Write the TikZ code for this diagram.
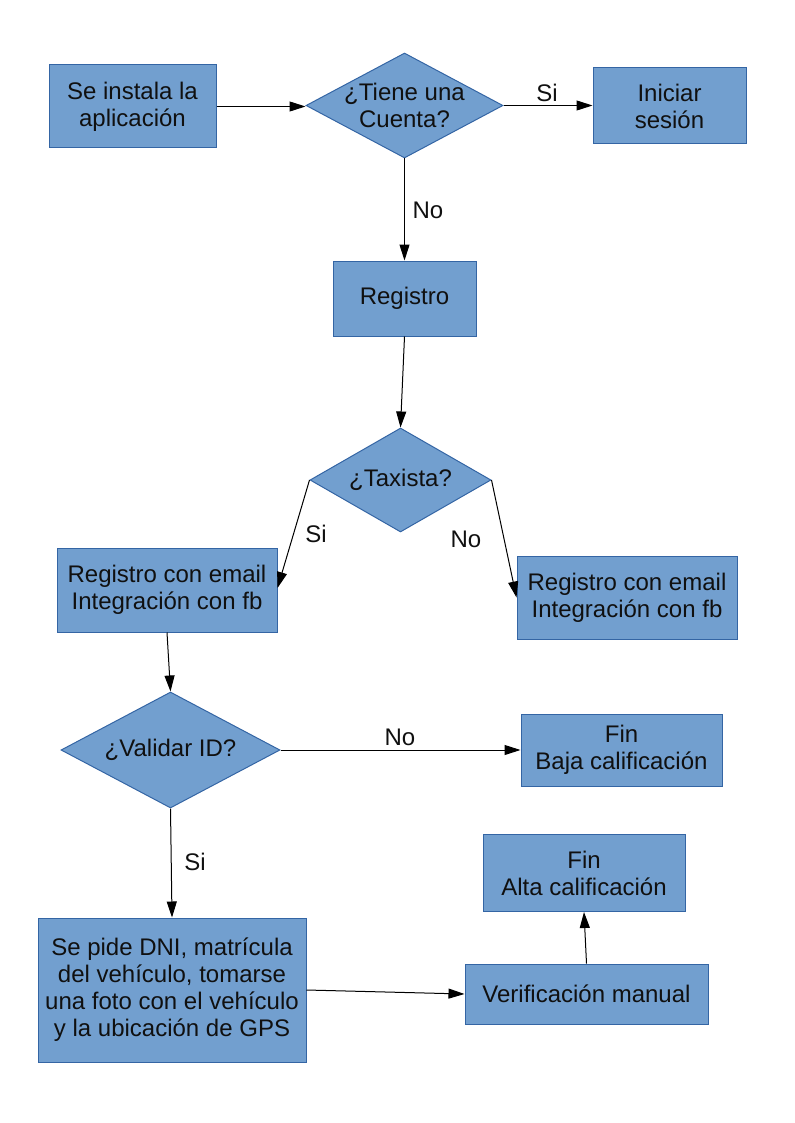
\documentclass[tikz,border=0pt]{standalone}
\usepackage{fontspec}
\setmainfont{Liberation Sans}
\usepackage{tikz}
\usetikzlibrary{positioning,shapes.geometric,arrows.meta}
\definecolor{azul}{HTML}{729FCF}
\definecolor{borde}{HTML}{3465A4}
\definecolor{letra}{HTML}{101010}

\begin{document}
\begin{tikzpicture}[x=0.75pt,y=-0.75pt,
    texto/.style={text=letra, font=\fontsize{18}{20.25}\selectfont},
    caja/.style={texto, rectangle, fill=azul, draw=borde, line width=0.75pt, align=center, inner sep=0pt},
    rombo/.style={texto, diamond, fill=azul, draw=borde, line width=0.75pt, align=center, inner sep=-10pt},
    flecha/.style={-{Triangle[length=12pt,width=7.5pt]}, line width=0.75pt, black}]
      \useasboundingbox (0,0) rectangle (794,1123);

      \node[caja, minimum width=125.25pt, minimum height=62.25pt] (instala) at (132.5,106.5) {Se instala la\\aplicación};
      \node[rombo, aspect=1.876, minimum width=147.75pt, minimum height=78.75pt] (cuenta) at (404.5,105.5) {¿Tiene una\\Cuenta?};
      \node[caja, minimum width=114.75pt, minimum height=57pt] (iniciar) at (669.5,106) {Iniciar\\sesión};
      \node[caja, minimum width=107.25pt, minimum height=56.25pt] (registro) at (404.5,298.5) {Registro};
      \node[rombo, aspect=1.74, minimum width=135.75pt, minimum height=78pt] (taxista) at (400.5,480) {¿Taxista?};
      \node[caja, minimum width=165pt, minimum height=63pt] (regtaxi) at (167,590) {Registro con email\\Integración con fb};
      \node[caja, minimum width=165pt, minimum height=62.25pt] (regpas) at (627,597.5) {Registro con email\\Integración con fb};
      \node[rombo, aspect=1.89, minimum width=164.25pt, minimum height=87pt] (validar) at (170.5,750) {¿Validar ID?};
      \node[caja, minimum width=150.75pt, minimum height=54pt] (baja) at (621.5,750) {Fin\\Baja calificación};
      \node[caja, minimum width=201pt, minimum height=108pt] (dni) at (172,990) {Se pide DNI, matrícula\\del vehículo, tomarse\\una foto con el vehículo\\y la ubicación de GPS};
      \node[caja, minimum width=182.25pt, minimum height=45pt] (verif) at (586.5,994) {Verificación manual};
      \node[caja, minimum width=151.5pt, minimum height=57.75pt] (alta) at (584,873) {Fin\\Alta calificación};

      \node[texto] (si1) at (547,93) {Si};
      \node[texto] (no1) at (428,210) {No};
      \node[texto] (si2) at (316,534) {Si};
      \node[texto] (no2) at (466,539) {No};
      \node[texto] (no3) at (400,737) {No};
      \node[texto] (si3) at (195,862) {Si};

      \draw[flecha] (instala.east) -- (instala.east -| cuenta.west);
      \draw[flecha] (cuenta.east) -- (cuenta.east -| iniciar.west);
      \draw[flecha] (cuenta.south) -- (registro.north);
      \draw[flecha] (registro.south) -- (taxista.north);
      \draw[flecha] (taxista.west) -- ([yshift=1.5pt]regtaxi.east);
      \draw[flecha] (taxista.east) -- (regpas.west);
      \draw[flecha] (regtaxi.south) -- (validar.north);
      \draw[flecha] (validar.east) -- (baja.west);
      \draw[flecha] (validar.south) -- (dni.north);
      \draw[flecha] (dni.east) -- (verif.west);
      \draw[flecha] (verif.north) -- (alta.south);
\end{tikzpicture}
\end{document}
